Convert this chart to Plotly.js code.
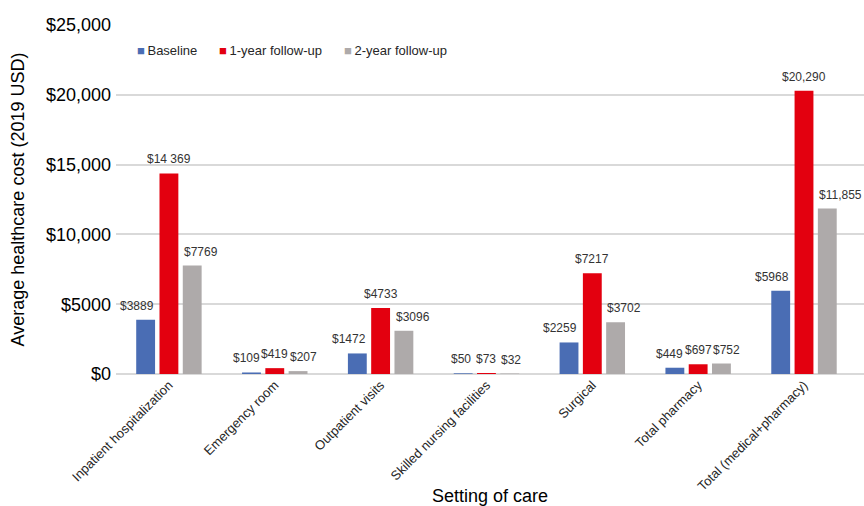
<!DOCTYPE html>
<html><head><meta charset="utf-8">
<script src="https://cdn.plot.ly/plotly-3.0.1.min.js"></script>
<style>html,body{margin:0;padding:0;background:#fff;}#chart{width:864px;height:506px;}</style>
</head><body><div id="chart"></div>
<script>
const categories = ["Inpatient hospitalization","Emergency room","Outpatient visits","Skilled nursing facilities","Surgical","Total pharmacy","Total (medical+pharmacy)"];
const seriesNames = ["Baseline","1-year follow-up","2-year follow-up"];
const baseline = [3889,109,1472,50,2259,449,5968];
const followup1 = [14369,419,4733,73,7217,697,20290];
const followup2 = [7769,207,3096,32,3702,752,11855];
const baselineLabels = ["$3889","$109","$1472","$50","$2259","$449","$5968"];
const followup1Labels = ["$14 369","$419","$4733","$73","$7217","$697","$20,290"];
const followup2Labels = ["$7769","$207","$3096","$32","$3702","$752","$11,855"];
const yTickVals = [0,5000,10000,15000,20000,25000];
const yTickText = ["$0","$5000","$10,000","$15,000","$20,000","$25,000"];
const colors = ["#4a6db4","#e3000f","#aeaaaa"];

const FONT = "Liberation Sans, Arial, sans-serif";
const seriesValues = [baseline, followup1, followup2];
const seriesLabels = [baselineLabels, followup1Labels, followup2Labels];

const data = seriesNames.map((n,i)=>({
  type:"bar", name:n, x:categories, y:seriesValues[i], marker:{color:colors[i]},
  hoverinfo:"none", showlegend:false
}));

// value labels: placed at each bar's value through the axis scales
const labelAnchor = ["right","center","left"];
const labelShift = [-13, 0, 13];
const annotations = [];
seriesNames.forEach((n,i)=>{
  categories.forEach((c,j)=>{
    annotations.push({xref:"x", yref:"y", x:c, y:seriesValues[i][j], text:seriesLabels[i][j],
      xanchor:labelAnchor[i], yanchor:"bottom", xshift:labelShift[i], yshift:5,
      showarrow:false, font:{family:FONT, size:12, color:"#333333"}});
  });
});
// legend
const legendX = [0.026, 0.1345, 0.3015];
seriesNames.forEach((n,i)=>{
  annotations.push({xref:"paper", yref:"paper", x:legendX[i], y:0.928, xanchor:"left", yanchor:"middle",
    showarrow:false, text:'<span style="color:'+colors[i]+';font-size:13px">■</span>\u2009'+n,
    font:{family:FONT, size:13, color:"#262626"}});
});

const layout = {
  width:864, height:506,
  margin:{l:116, r:0, t:25, b:132},
  paper_bgcolor:"#fff", plot_bgcolor:"#fff",
  font:{family:FONT, color:"#000"},
  barmode:"group", bargap:0.34, bargroupgap:0.19,
  annotations:annotations,
  xaxis:{tickangle:-45, tickfont:{size:13, color:"#262626"}, showgrid:false, showline:false, ticks:"",
    title:{text:"Setting of care", font:{size:18, color:"#000"}, standoff:5}, automargin:false},
  yaxis:{range:[0,25000], tickvals:yTickVals, ticktext:yTickText, tickfont:{size:18, color:"#000"},
    gridcolor:"#d9d9d9", gridwidth:2, zeroline:true, zerolinecolor:"#d9d9d9", zerolinewidth:2,
    showline:false, ticks:"", ticklabelstandoff:4, automargin:false,
    title:{text:"Average healthcare cost (2019 USD)", font:{size:18, color:"#000"}, standoff:16}}
};
Plotly.newPlot("chart", data, layout, {displayModeBar:false, staticPlot:true});
</script></body></html>
